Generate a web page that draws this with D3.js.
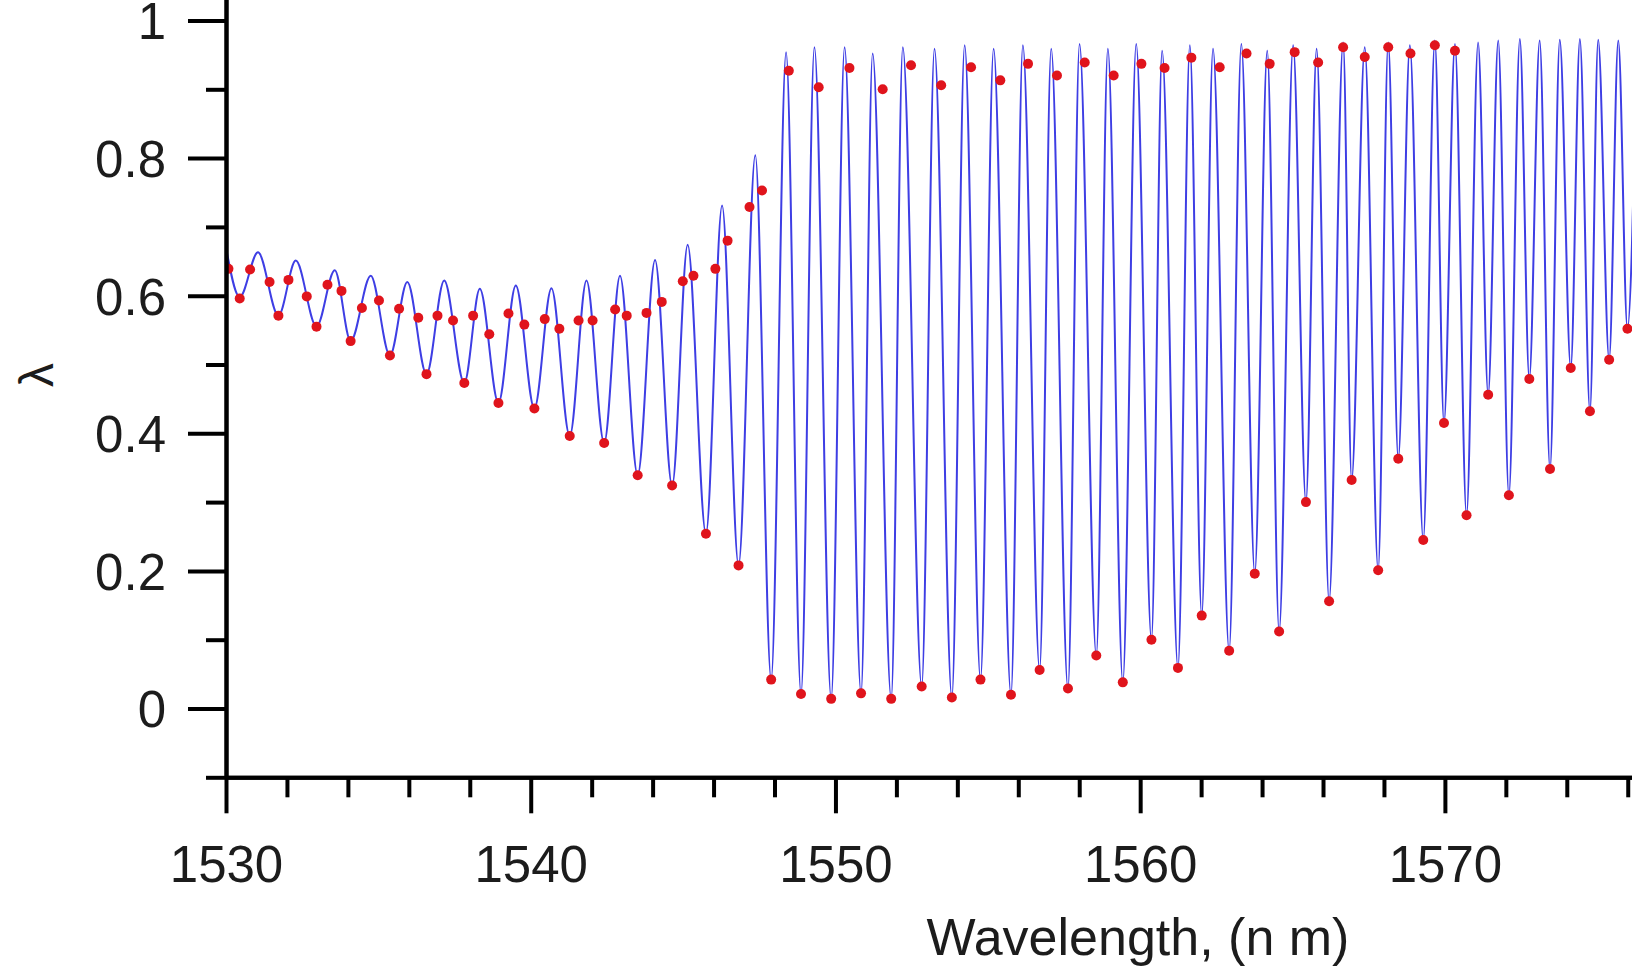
<!DOCTYPE html>
<html>
<head>
<meta charset="utf-8">
<script src="https://cdn.jsdelivr.net/npm/d3@7"></script>
<style>
  html, body { margin: 0; padding: 0; background: #ffffff; }
  svg { display: block; }
  text { font-family: "Liberation Sans", Arial, sans-serif; fill: #1c1c1c; }
</style>
</head>
<body>
<svg id="chart" width="1632" height="972"></svg>
<script>
// ---- data ----
const blueWavelength = [
  1530.00, 1530.45, 1531.05, 1531.72, 1532.29, 1532.97, 1533.57, 1534.09, 1534.75, 1535.38,
  1535.95, 1536.58, 1537.16, 1537.82, 1538.33, 1538.94, 1539.51, 1540.12, 1540.68, 1541.28,
  1541.83, 1542.41, 1542.93, 1543.51, 1544.08, 1544.64, 1545.15, 1545.75, 1546.28, 1546.82,
  1547.37, 1547.89, 1548.38, 1548.87, 1549.31, 1549.86, 1550.30, 1550.84, 1551.22, 1551.83,
  1552.21, 1552.83, 1553.25, 1553.82, 1554.24, 1554.76, 1555.19, 1555.76, 1556.15, 1556.70,
  1557.08, 1557.63, 1558.01, 1558.56, 1558.94, 1559.43, 1559.87, 1560.37, 1560.72, 1561.24,
  1561.63, 1562.02, 1562.39, 1562.92, 1563.32, 1563.76, 1564.17, 1564.56, 1565.02, 1565.44,
  1565.79, 1566.20, 1566.66, 1566.94, 1567.37, 1567.81, 1568.14, 1568.47, 1568.85, 1569.29,
  1569.67, 1569.97, 1570.33, 1570.71, 1571.09, 1571.42, 1571.75, 1572.10, 1572.46, 1572.77,
  1573.11, 1573.45, 1573.77, 1574.13, 1574.43, 1574.76, 1575.03, 1575.39, 1575.69, 1575.99,
  1576.30
];
const blueLambda = [
  0.670, 0.598, 0.663, 0.571, 0.651, 0.555, 0.637, 0.534, 0.629, 0.513,
  0.620, 0.486, 0.622, 0.473, 0.610, 0.444, 0.615, 0.436, 0.611, 0.396,
  0.622, 0.386, 0.629, 0.339, 0.652, 0.324, 0.674, 0.254, 0.731, 0.208,
  0.804, 0.042, 0.954, 0.021, 0.961, 0.014, 0.961, 0.022, 0.952, 0.014,
  0.961, 0.032, 0.959, 0.016, 0.964, 0.042, 0.959, 0.020, 0.964, 0.056,
  0.959, 0.029, 0.966, 0.077, 0.959, 0.038, 0.966, 0.100, 0.956, 0.059,
  0.964, 0.135, 0.959, 0.084, 0.966, 0.196, 0.956, 0.112, 0.964, 0.300,
  0.959, 0.156, 0.968, 0.332, 0.961, 0.201, 0.968, 0.363, 0.964, 0.245,
  0.971, 0.415, 0.966, 0.281, 0.968, 0.456, 0.971, 0.310, 0.973, 0.479,
  0.971, 0.348, 0.972, 0.495, 0.973, 0.432, 0.972, 0.507, 0.971, 0.552,
  0.970
];

const dotWavelength = [
  1530.08, 1530.45, 1530.79, 1531.43, 1531.72, 1532.05, 1532.65, 1532.97, 1533.33, 1533.79,
  1534.09, 1534.46, 1535.02, 1535.38, 1535.68, 1536.31, 1536.58, 1536.94, 1537.45, 1537.82,
  1538.11, 1538.64, 1538.94, 1539.27, 1539.79, 1540.12, 1540.46, 1540.94, 1541.28, 1541.57,
  1542.03, 1542.41, 1542.77, 1543.15, 1543.51, 1543.80, 1544.30, 1544.64, 1544.99, 1545.34,
  1545.75, 1546.06, 1546.46, 1546.82, 1547.18, 1547.59, 1547.89,
  1548.47, 1548.87, 1549.45, 1549.86, 1550.46, 1550.84, 1551.55, 1551.83, 1552.48, 1552.83,
  1553.47, 1553.82, 1554.45, 1554.76, 1555.41, 1555.76, 1556.32, 1556.70, 1557.27, 1557.63,
  1558.18, 1558.56, 1559.13, 1559.43, 1560.04, 1560.37, 1560.80, 1561.24, 1561.68, 1562.02,
  1562.61, 1562.92, 1563.49, 1563.76, 1564.25, 1564.56, 1565.07, 1565.44, 1565.84, 1566.20,
  1566.66, 1566.94, 1567.37, 1567.81, 1568.14, 1568.47, 1568.87, 1569.29, 1569.67, 1569.97,
  1570.33, 1570.71, 1571.42, 1572.10, 1572.77, 1573.45, 1574.13, 1574.76, 1575.39, 1575.99
];
const dotLambda = [
  0.639, 0.596, 0.638, 0.620, 0.571, 0.623, 0.599, 0.555, 0.616, 0.607,
  0.534, 0.582, 0.593, 0.513, 0.581, 0.568, 0.486, 0.571, 0.564, 0.473,
  0.571, 0.544, 0.444, 0.574, 0.558, 0.436, 0.566, 0.552, 0.396, 0.564,
  0.564, 0.386, 0.580, 0.571, 0.339, 0.575, 0.591, 0.324, 0.621, 0.629,
  0.254, 0.639, 0.680, 0.208, 0.729, 0.753, 0.042,
  0.927, 0.021, 0.903, 0.014, 0.931, 0.022, 0.900, 0.014, 0.935, 0.032,
  0.906, 0.016, 0.932, 0.042, 0.913, 0.020, 0.937, 0.056, 0.920, 0.029,
  0.939, 0.077, 0.920, 0.038, 0.937, 0.100, 0.931, 0.059, 0.946, 0.135,
  0.932, 0.084, 0.952, 0.196, 0.937, 0.112, 0.954, 0.300, 0.939, 0.156,
  0.961, 0.332, 0.947, 0.201, 0.961, 0.363, 0.952, 0.245, 0.964, 0.415,
  0.956, 0.281, 0.456, 0.310, 0.479, 0.348, 0.495, 0.432, 0.507, 0.552
];

const xMajorTicks = [1530, 1540, 1550, 1560, 1570];
const xMinorTicks = [1532, 1534, 1536, 1538, 1542, 1544, 1546, 1548, 1552, 1554, 1556, 1558, 1562, 1564, 1566, 1568, 1572, 1574, 1576];
const yMajorTicks = [0, 0.2, 0.4, 0.6, 0.8, 1];
const yMinorTicks = [-0.1, 0.1, 0.3, 0.5, 0.7, 0.9];
const xTitle = "Wavelength, (n m)";
const yTitle = "λ";

// ---- drawing ----
const svg = d3.select("#chart");
const W = 1632, H = 972;

const x = d3.scaleLinear().domain([1530, 1576.14]).range([226, 1632]);
const y = d3.scaleLinear().domain([-0.1, 1.1]).range([777.3, -48.3]);

const plot = svg.append("g");
svg.append("clipPath").attr("id", "clip")
  .append("rect").attr("x", 226).attr("y", -60).attr("width", W - 226).attr("height", 840);

const lineData = blueWavelength.map((w, i) => [w, blueLambda[i]]);
const line = d3.line().x(d => x(d[0])).y(d => y(d[1])).curve(d3.curveMonotoneX);

plot.append("path")
  .datum(lineData)
  .attr("clip-path", "url(#clip)")
  .attr("fill", "none")
  .attr("stroke", "#3e3ee4")
  .attr("stroke-width", 2)
  .attr("stroke-linejoin", "round")
  .attr("d", line);

plot.append("g").attr("clip-path", "url(#clip)")
  .selectAll("circle")
  .data(dotWavelength.map((w, i) => [w, dotLambda[i]]))
  .join("circle")
  .attr("cx", d => x(d[0]))
  .attr("cy", d => y(d[1]))
  .attr("r", 5)
  .attr("fill", "#e0141c");

// axes
const fs = 51;
function styleAxis(g) {
  g.selectAll("path.domain").attr("stroke", "#000").attr("stroke-width", 4);
  g.selectAll(".tick line").attr("stroke", "#000").attr("stroke-width", 4);
  g.selectAll(".tick text").attr("font-size", fs).attr("font-family", "Liberation Sans, Arial, sans-serif").attr("fill", "#1c1c1c");
}

const yAxisMinor = svg.append("g").attr("transform", `translate(${x(1530)},0)`)
  .call(d3.axisLeft(y).tickValues(yMinorTicks).tickSize(20).tickSizeOuter(0).tickFormat(""));
styleAxis(yAxisMinor);
const yAxisMajor = svg.append("g").attr("transform", `translate(${x(1530)},0)`)
  .call(d3.axisLeft(y).tickValues(yMajorTicks).tickSize(38).tickPadding(22).tickSizeOuter(0).tickFormat(d => String(d)));
styleAxis(yAxisMajor);
yAxisMajor.selectAll(".tick text").attr("dy", "0.36em");

const xAxisMinor = svg.append("g").attr("transform", `translate(0,${y(-0.1)})`)
  .call(d3.axisBottom(x).tickValues(xMinorTicks).tickSize(20).tickSizeOuter(0).tickFormat(""));
styleAxis(xAxisMinor);
const xAxisMajor = svg.append("g").attr("transform", `translate(0,${y(-0.1)})`)
  .call(d3.axisBottom(x).tickValues(xMajorTicks).tickSize(36).tickPadding(32).tickSizeOuter(0).tickFormat(d => String(d)));
styleAxis(xAxisMajor);

svg.append("text")
  .attr("x", 1138).attr("y", 955)
  .attr("text-anchor", "middle")
  .attr("font-size", 52)
  .text(xTitle);

svg.append("text")
  .attr("transform", "translate(53,375) rotate(-90)")
  .attr("text-anchor", "middle")
  .attr("font-size", 48)
  .text(yTitle);
</script>
</body>
</html>
